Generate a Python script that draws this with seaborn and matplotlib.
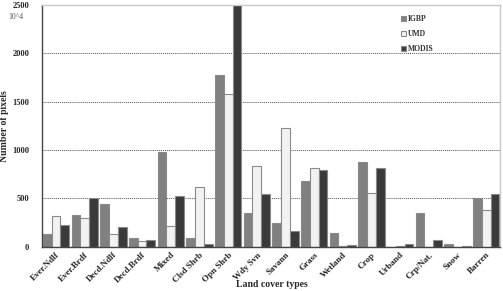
import pandas as pd
import numpy as np
import matplotlib
matplotlib.use('Agg')
import matplotlib.pyplot as plt
import seaborn as sns

# Land cover classes and pixel counts (x 10^4)
classes = ['Ever.Ndlf', 'Ever.Brdf', 'Decd.Ndlf', 'Decd.Brdf', 'Mixed', 'Clsd Shrb',
           'Opn Shrb', 'Wdy Svn', 'Savann', 'Grass', 'Wetland', 'Crop', 'Urband',
           'Crp/Nat.', 'Snow', 'Barren']
igbp = [130, 330, 445, 90, 975, 95, 1775, 345, 250, 685, 140, 880, 0, 345, 30, 500]
umd = [320, 295, 135, 55, 210, 615, 1580, 840, 1225, 810, 3, 560, 8, 0, 0, 385]
modis = [230, 500, 205, 70, 530, 25, 2500, 545, 165, 790, 15, 815, 25, 70, 10, 550]

df = pd.DataFrame({'cls': classes, 'IGBP': igbp, 'UMD': umd, 'MODIS': modis})
df = df.melt(id_vars='cls', var_name='source', value_name='pixels')

sns.set_style('white')
plt.rcParams['font.family'] = ['Liberation Serif', 'DejaVu Serif']

fig = plt.figure(figsize=(5.03, 2.91), dpi=100)
ax = fig.add_axes([0.083, 0.152, 0.912, 0.831])

pal = {'IGBP': '#808080', 'UMD': '#f2f2f2', 'MODIS': '#3a3a3a'}
sns.barplot(data=df, x='cls', y='pixels', hue='source', order=classes,
            hue_order=['IGBP', 'UMD', 'MODIS'], palette=pal, width=0.92,
            edgecolor='#8a8a8a', linewidth=0.8, ax=ax, saturation=1, zorder=2)

ax.set_ylim(0, 2500)
ax.set_xlim(-0.5, len(classes) - 0.5)
ax.set_yticks([0, 500, 1000, 1500, 2000, 2500])
for y in [500, 1000, 1500, 2000]:
    ax.axhline(y, color='#555555', lw=0.7, ls=(0, (1, 1)), zorder=0)
ax.tick_params(axis='y', length=0, pad=9, labelsize=6)
ax.tick_params(axis='x', length=0, pad=3, labelsize=6.5)
for lab in ax.get_yticklabels():
    lab.set_fontweight('bold')
ax.set_xticks(range(len(classes)))
ax.set_xticklabels(classes, rotation=45, ha='right', rotation_mode='anchor',
                   fontweight='bold')

for s in ['top', 'right']:
    ax.spines[s].set_color('#c8c8c8')
    ax.spines[s].set_linewidth(1.0)
for s in ['left', 'bottom']:
    ax.spines[s].set_color('#444444')
    ax.spines[s].set_linewidth(1.0)

ax.set_xlabel('')
ax.set_ylabel('Number of pixels', fontsize=7, fontweight='bold')
ax.yaxis.set_label_coords(-0.072, 0.5)

leg = ax.legend(loc='upper right', bbox_to_anchor=(0.87, 0.985), frameon=False,
                fontsize=5.5, handlelength=0.6, handleheight=0.6,
                handletextpad=0.3, labelspacing=0.9)
for t in leg.get_texts():
    t.set_fontweight('bold')
    t.set_color('#333333')

fig.text(0.016, 0.935, '10^4', fontsize=5.5, color='#555555')
fig.text(0.54, 0.008, 'Land cover types', fontsize=7, fontweight='bold',
         ha='center', va='bottom')

fig.savefig('out.png', dpi=100)
